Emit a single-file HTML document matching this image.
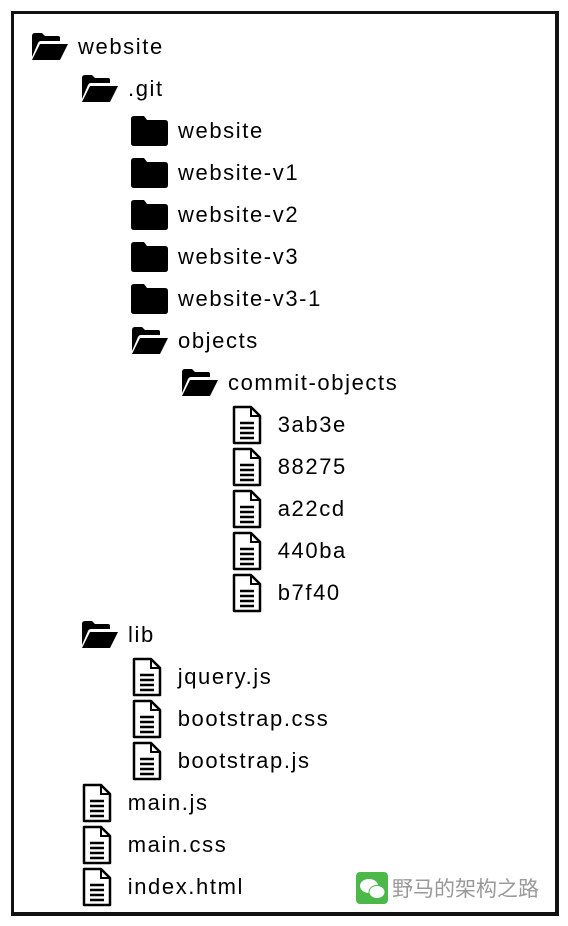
<!DOCTYPE html>
<html><head><meta charset="utf-8"><style>
body{margin:0;width:568px;height:926px;background:#fff;position:relative;overflow:hidden;font-family:"Liberation Sans",sans-serif}
.box{position:absolute;left:11px;top:11px;width:541px;height:898px;border:3px solid #111;border-right-width:4px;border-bottom-width:4px}
.r{position:absolute;height:40px;display:flex;align-items:center;font-size:22px;color:#000;letter-spacing:1.6px;padding-top:2px}
.r svg{margin-right:8px;flex:none}
.wm{position:absolute;left:356px;top:872px;display:flex;align-items:center;font-family:"Liberation Sans","Noto Sans CJK SC",sans-serif;font-size:21px;color:#999}
.wc{width:32px;height:32px;background:#4cb84a;border-radius:4px;margin-right:4px;position:relative}
</style></head><body>
<svg width="0" height="0" style="position:absolute">
<defs>
<symbol id="of" viewBox="0 0 40 30"><path d="M2 4 Q2 1 5 1 H12 L15 4 H28 Q30 4 30 6 V9 H11 Q9 9 8 11 L2 25 Z" fill="#000"/><path d="M10 12 H38 L30 28 H2 Z" fill="#000"/></symbol>
<symbol id="cf" viewBox="0 0 40 32"><path d="M1 4 Q1 1 4 1 H14 L17 5 H35 Q38 5 38 8 V28 Q38 31 35 31 H4 Q1 31 1 28 Z" fill="#000"/></symbol>
<symbol id="fi" viewBox="0 0 30 40"><path d="M2 2 H19 L28 11 V38 H2 Z" fill="#fff" stroke="#000" stroke-width="2.5" stroke-linejoin="round"/><path d="M19 2 V11 H28" fill="none" stroke="#000" stroke-width="2"/><path d="M8 18 H22 M8 23 H22 M8 28 H22 M8 33 H22" stroke="#000" stroke-width="2.5"/></symbol>
</defs></svg>
<div class="box"></div>
<div class="r" style="left:30px;top:25px"><svg width="40" height="30"><use href="#of"/></svg>website</div>
<div class="r" style="left:80px;top:67px"><svg width="40" height="30"><use href="#of"/></svg>.git</div>
<div class="r" style="left:130px;top:109px"><svg width="40" height="32"><use href="#cf"/></svg>website</div>
<div class="r" style="left:130px;top:151px"><svg width="40" height="32"><use href="#cf"/></svg>website-v1</div>
<div class="r" style="left:130px;top:193px"><svg width="40" height="32"><use href="#cf"/></svg>website-v2</div>
<div class="r" style="left:130px;top:235px"><svg width="40" height="32"><use href="#cf"/></svg>website-v3</div>
<div class="r" style="left:130px;top:277px"><svg width="40" height="32"><use href="#cf"/></svg>website-v3-1</div>
<div class="r" style="left:130px;top:319px"><svg width="40" height="30"><use href="#of"/></svg>objects</div>
<div class="r" style="left:180px;top:361px"><svg width="40" height="30"><use href="#of"/></svg>commit-objects</div>
<div class="r" style="left:232px;top:403px"><svg width="30" height="40"><use href="#fi"/></svg>&nbsp;3ab3e</div>
<div class="r" style="left:232px;top:445px"><svg width="30" height="40"><use href="#fi"/></svg>&nbsp;88275</div>
<div class="r" style="left:232px;top:487px"><svg width="30" height="40"><use href="#fi"/></svg>&nbsp;a22cd</div>
<div class="r" style="left:232px;top:529px"><svg width="30" height="40"><use href="#fi"/></svg>&nbsp;440ba</div>
<div class="r" style="left:232px;top:571px"><svg width="30" height="40"><use href="#fi"/></svg>&nbsp;b7f40</div>
<div class="r" style="left:80px;top:613px"><svg width="40" height="30"><use href="#of"/></svg>lib</div>
<div class="r" style="left:132px;top:655px"><svg width="30" height="40"><use href="#fi"/></svg>&nbsp;jquery.js</div>
<div class="r" style="left:132px;top:697px"><svg width="30" height="40"><use href="#fi"/></svg>&nbsp;bootstrap.css</div>
<div class="r" style="left:132px;top:739px"><svg width="30" height="40"><use href="#fi"/></svg>&nbsp;bootstrap.js</div>
<div class="r" style="left:82px;top:781px"><svg width="30" height="40"><use href="#fi"/></svg>&nbsp;main.js</div>
<div class="r" style="left:82px;top:823px"><svg width="30" height="40"><use href="#fi"/></svg>&nbsp;main.css</div>
<div class="r" style="left:82px;top:865px"><svg width="30" height="40"><use href="#fi"/></svg>&nbsp;index.html</div>
<div class="wm"><div class="wc"><svg width="32" height="32"><ellipse cx="13" cy="14" rx="9" ry="7" fill="#fff"/><ellipse cx="21" cy="20" rx="8" ry="6.5" fill="#fff" stroke="#4cb84a" stroke-width="1"/></svg></div>野马的架构之路</div>
</body></html>
